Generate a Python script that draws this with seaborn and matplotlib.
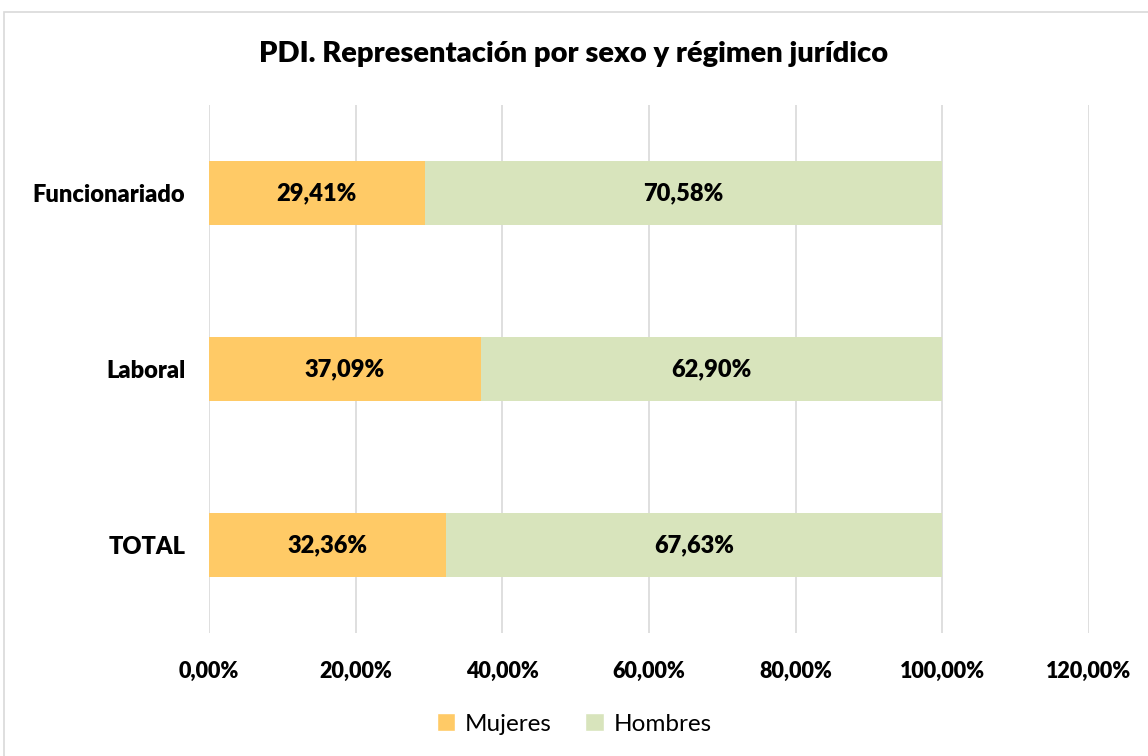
import matplotlib
matplotlib.use("Agg")
import matplotlib.pyplot as plt
import seaborn as sns
import pandas as pd
from matplotlib.patches import Rectangle, Patch

categories = ["Funcionariado", "Laboral", "TOTAL"]
mujeres = [29.41, 37.09, 32.36]
hombres = [70.58, 62.90, 67.63]
xticks = [0, 20, 40, 60, 80, 100, 120]
tick_labels = ["0,00%", "20,00%", "40,00%", "60,00%", "80,00%", "100,00%", "120,00%"]
title = "PDI. Representación por sexo y régimen jurídico"

sns.set_theme(style="white")
plt.rcParams["font.family"] = ["Lato", "DejaVu Sans"]

c_m = "#FFCA66"
c_h = "#D8E4BC"

df = pd.DataFrame({"cat": categories, "m": mujeres, "h": hombres})
df["tot"] = df["m"] + df["h"]

fig = plt.figure(figsize=(11.48, 7.56), dpi=100)
ax = fig.add_axes([0.182, 0.1627, 0.9486 - 0.182, 0.861 - 0.1627])

sns.barplot(data=df, x="tot", y="cat", color=c_h, width=0.36, ax=ax, saturation=1,
            zorder=3, linewidth=0)
sns.barplot(data=df, x="m", y="cat", color=c_m, width=0.36, ax=ax, saturation=1,
            zorder=3, linewidth=0)

for i, (m, h) in enumerate(zip(mujeres, hombres)):
    ax.text(m / 2, i, f"{m:.2f}%".replace(".", ","), ha="center", va="center",
            fontsize=17, fontweight="heavy", color="black", zorder=4)
    ax.text(m + h / 2, i, f"{h:.2f}%".replace(".", ","), ha="center", va="center",
            fontsize=17, fontweight="heavy", color="black", zorder=4)

ax.set_xlim(0, 120)
ax.set_ylim(2.5, -0.5)
ax.set_xticks(xticks)
ax.set_xticklabels(tick_labels, fontsize=15.5, fontweight="heavy", color="black")
ax.tick_params(axis="x", pad=20, length=0)
ax.tick_params(axis="y", pad=17, length=0)
for lab in ax.get_yticklabels():
    lab.set_fontsize(17)
    lab.set_fontweight("heavy")
    lab.set_color("black")
ax.set_xlabel("")
ax.set_ylabel("")
ax.grid(axis="x", color="#D9D9D9", linewidth=1.2, zorder=0)
ax.grid(axis="y", visible=False)
for s in ax.spines.values():
    s.set_visible(False)

fig.text(0.5, 1 - 54 / 756, title, ha="center", va="center", fontsize=21,
         fontweight="heavy", color="black")

handles = [Patch(facecolor=c_m, label="Mujeres"), Patch(facecolor=c_h, label="Hombres")]
fig.legend(handles=handles, loc="center", bbox_to_anchor=(0.5, 1 - 724 / 756), ncol=2,
           frameon=False, fontsize=17.5, handlelength=0.75, handleheight=0.75,
           handletextpad=0.4, columnspacing=1.4, labelcolor="black")

fig.patches.append(Rectangle((4 / 1148, -0.01), 1.02, 1 - 12 / 756 + 0.01,
                             transform=fig.transFigure, fill=False,
                             edgecolor="#D9D9D9", linewidth=1.2))

fig.savefig("out.png", dpi=100)
